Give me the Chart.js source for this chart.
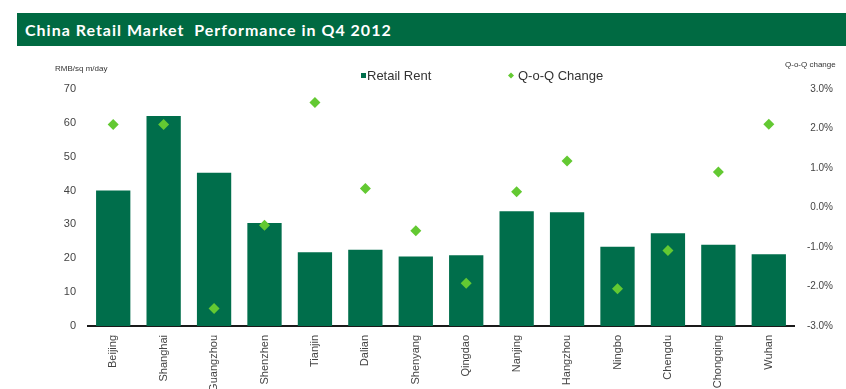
<!DOCTYPE html>
<html>
<head>
<meta charset="utf-8">
<script src="https://cdn.jsdelivr.net/npm/chart.js@4.4.0/dist/chart.umd.min.js"></script>
<style>
  html, body { margin: 0; padding: 0; background: #fff; }
  #wrap { position: relative; width: 846px; height: 389px; }
  #title {
    position: absolute; left: 17px; top: 13px; width: 829px; height: 33px;
    background: #006a42; color: #fff;
    font: bold 16px Lato, "DejaVu Sans", sans-serif; letter-spacing: 1px;
    line-height: 33px; padding-left: 8px; box-sizing: border-box;
    white-space: pre;
  }
  canvas { position: absolute; left: 0; top: 0; }
</style>
</head>
<body>
<div id="wrap">
  <canvas id="retail-chart" width="846" height="389"></canvas>
  <div id="title">China Retail Market  Performance in Q4 2012</div>
</div>
<script>
// Villes (catégories)
const cities = ['Beijing', 'Shanghai', 'Guangzhou', 'Shenzhen', 'Tianjin', 'Dalian', 'Shenyang',
  'Qingdao', 'Nanjing', 'Hangzhou', 'Ningbo', 'Chengdu', 'Chongqing', 'Wuhan'];

// Loyer commercial (RMB/sq m/day)
const retailRent = [40, 62, 45.3, 30.4, 21.8, 22.5, 20.5, 20.9, 33.9, 33.6, 23.4, 27.4, 24.0, 21.2];

// Variation trimestrielle (%)
const qoqChange = [2.1, 2.1, -2.56, -0.45, 2.66, 0.48, -0.59, -1.92, 0.4, 1.18, -2.06, -1.09, 0.9, 2.11];

const barColor = '#006e4b';
const dotColor = '#63c932';
const tickFont = { family: '"Liberation Sans", Arial, sans-serif', size: 11 };

// Textes autour du graphique : unités et légende
const extraText = {
  id: 'extraText',
  afterDraw(chart) {
    const ctx = chart.ctx;
    ctx.save();
    ctx.fillStyle = '#333';
    ctx.font = '8px "Liberation Sans", Arial, sans-serif';
    ctx.textBaseline = 'middle';
    ctx.textAlign = 'left';
    ctx.fillText('RMB/sq m/day', 55, 69);
    ctx.fillText('Q-o-Q change', 785, 65);

    // légende
    ctx.font = '13px "Liberation Sans", Arial, sans-serif';
    ctx.fillStyle = barColor;
    ctx.fillRect(361, 73, 5, 5);
    ctx.fillStyle = '#333';
    ctx.fillText('Retail Rent', 367, 76);
    ctx.fillStyle = dotColor;
    ctx.beginPath();
    ctx.moveTo(511, 72.5); ctx.lineTo(514, 75.5); ctx.lineTo(511, 78.5); ctx.lineTo(508, 75.5);
    ctx.closePath(); ctx.fill();
    ctx.fillStyle = '#333';
    ctx.fillText('Q-o-Q Change', 518, 76);
    ctx.restore();
  }
};

new Chart(document.getElementById('retail-chart'), {
  data: {
    labels: cities,
    datasets: [
      {
        type: 'line',
        label: 'Q-o-Q Change',
        data: qoqChange,
        yAxisID: 'y1',
        showLine: false,
        pointStyle: 'rectRot',
        pointRadius: 5.5,
        pointBackgroundColor: dotColor,
        pointBorderWidth: 0,
        order: 0
      },
      {
        type: 'bar',
        label: 'Retail Rent',
        data: retailRent,
        yAxisID: 'y',
        backgroundColor: barColor,
        categoryPercentage: 1,
        barPercentage: 0.68,
        order: 1
      }
    ]
  },
  options: {
    responsive: false,
    animation: false,
    layout: { padding: { top: 89, left: 0, right: 13, bottom: 0 } },
    plugins: { legend: { display: false }, tooltip: { enabled: false } },
    scales: {
      x: {
        grid: { display: false },
        border: { display: true, color: '#1a1a1a', width: 2 },
        ticks: { font: tickFont, color: '#444', minRotation: 90, maxRotation: 90, padding: 1 },
        afterFit(axis) { axis.height = 63; }
      },
      y: {
        position: 'left',
        min: 0, max: 70,
        grid: { display: false },
        border: { display: false },
        ticks: { stepSize: 10, font: tickFont, color: '#444', padding: 4 },
        afterFit(axis) { axis.width = 88; }
      },
      y1: {
        position: 'right',
        min: -3, max: 3,
        grid: { display: false },
        border: { display: false },
        ticks: {
          stepSize: 1, font: { ...tickFont, size: 10 }, color: '#444', padding: 0, crossAlign: 'far',
          callback: v => v.toFixed(1) + '%'
        },
        afterFit(axis) { axis.width = 39; }
      }
    }
  },
  plugins: [extraText]
});
</script>
</body>
</html>
